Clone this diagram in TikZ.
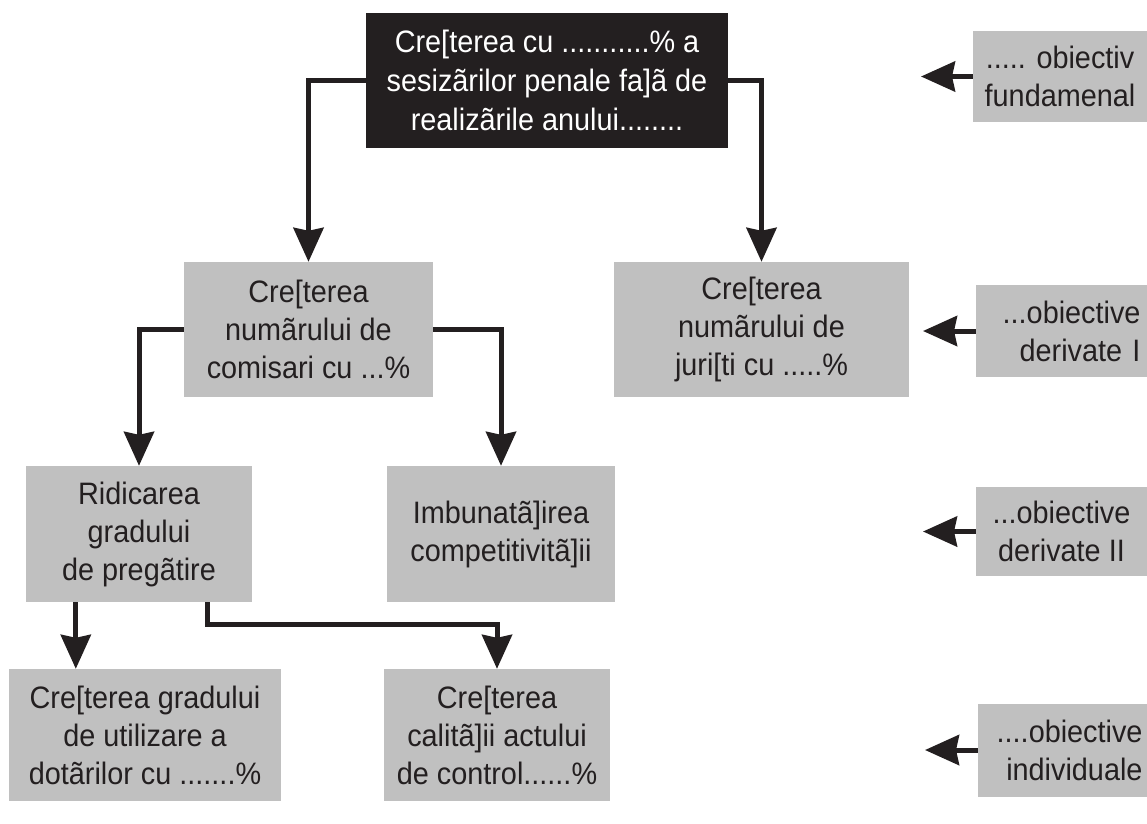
\documentclass[tikz,border=0pt]{standalone}
\usepackage{fontspec}
\setmainfont{Liberation Sans}[FakeStretch=0.93]
\usetikzlibrary{arrows.meta}
\definecolor{boxgray}{RGB}{192,192,192}
\definecolor{ink}{RGB}{35,31,32}
\tikzset{
  gbox/.style={fill=boxgray, draw=none, text=ink, align=center, inner sep=0pt,
    font=\fontsize{31}{38}\selectfont},
  dbox/.style={fill=ink, draw=none, text=white, align=center, inner sep=0pt,
    font=\fontsize{31}{39}\selectfont},
  conn/.style={draw=ink, line width=5pt, line join=miter,
    -{Stealth[length=34pt,width=30pt,inset=3pt]}}
}
\begin{document}
\begin{tikzpicture}[x=1pt,y=-1pt]
\useasboundingbox (0,0) rectangle (1147,823);
% main boxes
\node[dbox, minimum width=362pt, minimum height=135pt] (top) at (547,80.5)
  {Cre[terea cu ...........\% a\\ sesizãrilor penale fa]ã de\\ realizãrile anului........};
\node[gbox, minimum width=249pt, minimum height=135pt] (com) at (308.5,329.5)
  {Cre[terea\\ numãrului de\\ comisari cu ...\%};
\node[gbox, minimum width=295pt, minimum height=135pt] (jur) at (761.5,329.5)
  {Cre[terea\\ numãrului de\\ juri[ti cu .....\%};
\node[gbox, minimum width=226pt, minimum height=136pt] (rid) at (139,534)
  {Ridicarea\\ gradului\\ de pregãtire};
\node[gbox, minimum width=228pt, minimum height=136pt] (imb) at (501,534)
  {Imbunatã]irea\\ competitivitã]ii};
\node[gbox, minimum width=272pt, minimum height=132pt] (bl) at (145,735)
  {Cre[terea gradului\\ de utilizare a\\ dotãrilor cu .......\%};
\node[gbox, minimum width=226pt, minimum height=132pt] (bm) at (497,735)
  {Cre[terea\\ calitã]ii actului\\ de control......\%};
% level labels
\node[gbox, minimum width=174pt, minimum height=91pt] (l1) at (1060,76.5)
  {..... obiectiv\\ fundamenal};
\node[gbox, minimum width=171pt, minimum height=92pt, align=right, text width=158pt] (l2) at (1061.5,331)
  {...obiective\\ derivate I};
\node[gbox, minimum width=171pt, minimum height=89pt] (l3) at (1061.5,531.5)
  {...obiective\\ derivate II};
\node[gbox, minimum width=169pt, minimum height=93pt, align=right, text width=160pt] (l4) at (1062.5,750)
  {....obiective\\ individuale};
% free ends of the level arrows
\coordinate (t1) at (921,79);
\coordinate (t2) at (923,331);
\coordinate (t3) at (923,533);
\coordinate (t4) at (925,750);
% connectors
\draw[conn] (top.west) -| (com.north);
\draw[conn] (top.east) -| (jur.north);
\draw[conn] (com.west) -| (rid.north);
\draw[conn] (com.east) -| (imb.north);
\draw[conn] ([xshift=50pt]rid.south west) -- ([xshift=50pt]rid.south west |- bl.north);
\draw[conn] ([xshift=-45pt]rid.south east) -- ++(0,22) -| (bm.north);
\draw[conn] (l1.west) -- (l1.west -| t1);
\draw[conn] (l2.west) -- (l2.west -| t2);
\draw[conn] (l3.west) -- (l3.west -| t3);
\draw[conn] (l4.west) -- (l4.west -| t4);
\end{tikzpicture}
\end{document}
